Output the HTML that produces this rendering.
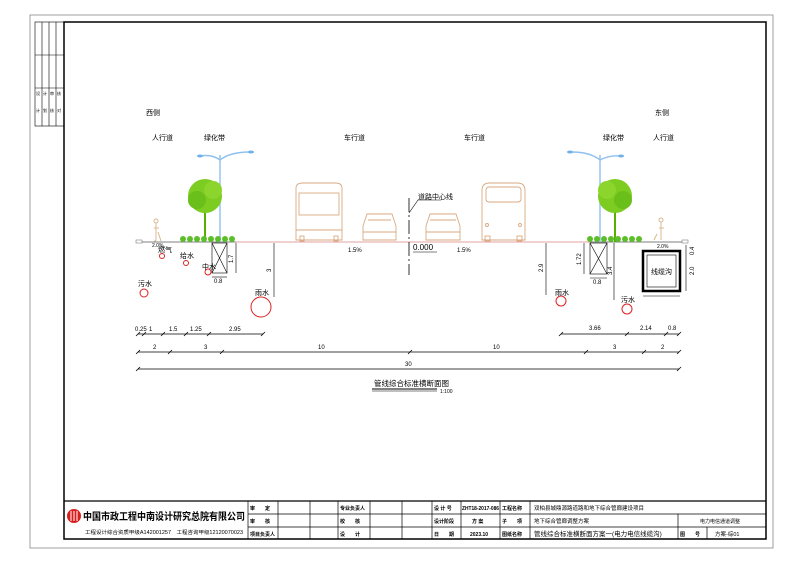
<!DOCTYPE html>
<html><head><meta charset="utf-8"><style>
html,body{margin:0;padding:0;background:#fff;}
svg{display:block;font-family:"Liberation Sans","Noto Sans CJK SC",sans-serif;}
</style></head><body>
<svg width="794" height="562" viewBox="0 0 794 562" xmlns="http://www.w3.org/2000/svg">
<!-- outer lines -->
<rect x="30" y="15" width="743" height="533" fill="none" stroke="#888" stroke-width="0.8"/>
<rect x="64" y="22" width="702" height="517" fill="none" stroke="#000" stroke-width="1.5"/>
<!-- left strip -->
<g stroke="#000" stroke-width="0.6" fill="none">
<rect x="35" y="22" width="29" height="104"/>
<line x1="42" y1="22" x2="42" y2="126"/><line x1="49" y1="22" x2="49" y2="126"/><line x1="56" y1="22" x2="56" y2="126"/>
<line x1="35" y1="55" x2="64" y2="55"/><line x1="35" y1="88" x2="64" y2="88"/>
</g>
<g font-size="4" fill="#000"><text x="36" y="95">设</text><text x="43" y="95">计</text><text x="50" y="95">审</text><text x="57" y="95">核</text>
<text x="36" y="112">计</text><text x="43" y="112">划</text><text x="50" y="112">核</text><text x="57" y="112">对</text></g>

<!-- top labels -->
<g font-size="7" fill="#000">
<text x="146" y="115">西侧</text><text x="152" y="140">人行道</text><text x="204" y="140">绿化带</text>
<text x="344" y="140">车行道</text><text x="464" y="140">车行道</text><text x="603" y="140">绿化带</text>
<text x="655" y="115">东侧</text><text x="653" y="140">人行道</text>
</g>

<!-- ground lines -->
<line x1="138" y1="242" x2="236" y2="242" stroke="#555" stroke-width="0.8"/>
<line x1="236" y1="242" x2="590" y2="242" stroke="#e3a0a0" stroke-width="0.9"/>
<line x1="590" y1="242" x2="688" y2="242" stroke="#555" stroke-width="0.8"/>
<rect x="136" y="240" width="6" height="3" fill="#fff" stroke="#666" stroke-width="0.5"/>
<rect x="682" y="240" width="6" height="3" fill="#fff" stroke="#666" stroke-width="0.5"/>

<!-- street lights -->
<g stroke="#8fc0ee" stroke-width="1.4" fill="none">
<line x1="220" y1="155" x2="220" y2="242"/><path d="M220 160 Q212 154 200 156"/><path d="M220 160 Q230 152 250 152"/>
<line x1="600" y1="155" x2="600" y2="242"/><path d="M600 160 Q590 152 572 152"/><path d="M600 160 Q610 155 620 156"/>
</g>
<g fill="#6fb0ea"><ellipse cx="200" cy="156" rx="3" ry="1.5"/><ellipse cx="251" cy="152" rx="3" ry="1.5"/><ellipse cx="570" cy="152" rx="3" ry="1.5"/><ellipse cx="621" cy="156" rx="3" ry="1.5"/></g>

<!-- trees -->
<g>
<rect x="204" y="200" width="2" height="42" fill="#55b000"/>
<circle cx="205" cy="196" r="17" fill="#7ccc22"/><circle cx="197" cy="200" r="9" fill="#6bbf1a"/><circle cx="213" cy="190" r="9" fill="#8bd52c"/>
<rect x="614" y="200" width="2" height="42" fill="#55b000"/>
<circle cx="615" cy="196" r="17" fill="#7ccc22"/><circle cx="607" cy="190" r="9" fill="#8bd52c"/><circle cx="623" cy="200" r="9" fill="#6bbf1a"/>
</g>
<!-- shrubs -->
<g fill="#5cbf2a">
<circle cx="183" cy="239" r="3"/><circle cx="190" cy="239" r="3"/><circle cx="197" cy="239" r="3"/><circle cx="204" cy="239" r="3"/><circle cx="211" cy="239" r="3"/><circle cx="218" cy="239" r="3"/><circle cx="225" cy="239" r="3"/><circle cx="232" cy="239" r="3"/>
<circle cx="590" cy="239" r="3"/><circle cx="597" cy="239" r="3"/><circle cx="604" cy="239" r="3"/><circle cx="611" cy="239" r="3"/><circle cx="618" cy="239" r="3"/><circle cx="625" cy="239" r="3"/><circle cx="632" cy="239" r="3"/><circle cx="639" cy="239" r="3"/>
</g>
<!-- pedestrians -->
<g stroke="#d8b890" stroke-width="1" fill="none">
<path d="M156 223 v18 M154 228 h5 M156 241 l-2 0 M158 232 l3 9"/><circle cx="156" cy="221" r="2"/>
<path d="M661 222 v18 M659 228 h5 M657 234 l-3 6"/><circle cx="661" cy="220" r="2"/>
</g>

<!-- vehicles -->
<g stroke="#d9a980" stroke-width="0.9" fill="none">
<path d="M296 240 V188 Q296 183 303 183 H335 Q342 183 342 188 V240 Z"/><rect x="299" y="193" width="40" height="22"/><line x1="296" y1="230" x2="342" y2="230"/>
<rect x="300" y="236" width="4" height="5"/><rect x="334" y="236" width="4" height="5"/>
<path d="M363 240 V226 L367 214 H392 L396 226 V240 Z"/><line x1="368" y1="220" x2="391" y2="220"/><line x1="363" y1="232" x2="396" y2="232"/>
<path d="M426 240 V226 L430 214 H456 L460 226 V240 Z"/><line x1="430" y1="220" x2="456" y2="220"/><line x1="426" y1="232" x2="460" y2="232"/>
<path d="M482 240 V190 Q482 183 490 183 H517 Q525 183 525 190 V240 Z"/><rect x="486" y="187" width="35" height="15" rx="3"/><circle cx="487" cy="225" r="1.5"/><circle cx="520" cy="225" r="1.5"/>
<rect x="485" y="236" width="5" height="5"/><rect x="517" y="236" width="5" height="5"/>
</g>

<!-- centerline -->
<line x1="409" y1="198" x2="409" y2="275" stroke="#000" stroke-width="0.8" stroke-dasharray="14 3 2 3"/>
<path d="M409 213 L418 200 H441" stroke="#000" stroke-width="0.6" fill="none"/>
<text x="418" y="199" font-size="7" fill="#000">道路中心线</text>
<text x="413" y="250" font-size="8" fill="#000">0.000</text><line x1="413" y1="252" x2="437" y2="252" stroke="#000" stroke-width="0.6"/>
<text x="348" y="252" font-size="6" fill="#000">1.5%</text><text x="457" y="252" font-size="6" fill="#000">1.5%</text>
<text x="152" y="247" font-size="5" fill="#000">2.0%</text><text x="657" y="248" font-size="5" fill="#000">2.0%</text>

<!-- hatched boxes -->
<g stroke="#000" stroke-width="0.6" fill="none">
<rect x="212" y="243" width="15" height="30"/><path d="M212 243 L227 273 M227 243 L212 273"/>
<rect x="590" y="243" width="17" height="31"/><path d="M590 243 L607 274 M607 243 L590 274"/>
<line x1="236" y1="243" x2="236" y2="273"/><line x1="274" y1="243" x2="274" y2="297"/>
<line x1="546" y1="243" x2="546" y2="295"/><line x1="584" y1="243" x2="584" y2="274"/><line x1="614" y1="243" x2="614" y2="300"/>
<line x1="212" y1="277" x2="227" y2="277"/><line x1="590" y1="278" x2="607" y2="278"/>
<line x1="686" y1="245" x2="686" y2="291"/>
</g>
<g font-size="6" fill="#000">
<text x="233" y="263" transform="rotate(-90 233 263)">1.7</text>
<text x="271" y="272" transform="rotate(-90 271 272)">3</text>
<text x="543" y="272" transform="rotate(-90 543 272)">2.9</text>
<text x="581" y="265" transform="rotate(-90 581 265)">1.72</text>
<text x="612" y="275" transform="rotate(-90 612 275)">3.4</text>
<text x="694" y="255" transform="rotate(-90 694 255)">0.4</text>
<text x="694" y="275" transform="rotate(-90 694 275)">2.0</text>
<text x="214" y="283">0.8</text><text x="593" y="284">0.8</text>
</g>

<!-- cable trench -->
<rect x="643" y="251" width="37" height="40" fill="none" stroke="#000" stroke-width="2.5"/>
<rect x="647" y="255" width="29" height="32" fill="none" stroke="#000" stroke-width="0.6"/>
<text x="651" y="274" font-size="7" fill="#000">线缆沟</text>
<line x1="643" y1="296" x2="680" y2="296" stroke="#000" stroke-width="0.5"/>

<!-- pipes -->
<g fill="none" stroke="#d22" stroke-width="1">
<circle cx="144" cy="293" r="4"/><circle cx="162" cy="256" r="2.5"/><circle cx="186" cy="263" r="2.5"/><circle cx="208" cy="272" r="3"/>
<circle cx="261" cy="307" r="10"/><circle cx="561" cy="301" r="5"/><circle cx="627" cy="309" r="5"/>
</g>
<g font-size="7" fill="#000">
<text x="138" y="286">污水</text><text x="158" y="252">燃气</text><text x="180" y="258">给水</text><text x="202" y="269">中水</text>
<text x="255" y="295">雨水</text><text x="555" y="295">雨水</text><text x="621" y="302">污水</text>
</g>

<!-- dimensions -->
<g stroke="#000" stroke-width="0.7">
<line x1="138" y1="334" x2="263" y2="334"/><line x1="561" y1="334" x2="679" y2="334"/>
<line x1="138" y1="352" x2="679" y2="352"/><line x1="138" y1="369" x2="679" y2="369"/>
</g>
<g stroke="#000" stroke-width="0.8">
<path d="M136 336 l4 -4 M142 336 l4 -4 M161 336 l4 -4 M184 336 l4 -4 M207 336 l4 -4 M261 336 l4 -4 M559 336 l4 -4 M625 336 l4 -4 M664 336 l4 -4 M677 336 l4 -4"/>
<path d="M136 354 l4 -4 M168 354 l4 -4 M220 354 l4 -4 M408 354 l4 -4 M584 354 l4 -4 M642 354 l4 -4 M677 354 l4 -4"/>
<path d="M136 371 l4 -4 M677 371 l4 -4"/>
</g>
<g font-size="6" fill="#000">
<text x="135" y="331">0.25</text><text x="149" y="331">1</text><text x="169" y="331">1.5</text><text x="190" y="331">1.25</text><text x="229" y="331">2.95</text>
<text x="589" y="330">3.66</text><text x="640" y="330">2.14</text><text x="668" y="330">0.8</text>
<text x="153" y="349">2</text><text x="204" y="349">3</text><text x="318" y="349">10</text><text x="493" y="349">10</text><text x="613" y="349">3</text><text x="661" y="349">2</text>
<text x="405" y="366">30</text>
</g>
<text x="374" y="386" font-size="7.5" fill="#000">管线综合标准横断面图</text>
<line x1="372" y1="389" x2="437" y2="389" stroke="#000" stroke-width="1"/>
<line x1="372" y1="391" x2="437" y2="391" stroke="#000" stroke-width="0.5"/>
<text x="440" y="393" font-size="5" fill="#000">1:100</text>

<!-- title block -->
<g stroke="#000" stroke-width="0.7" fill="none">
<line x1="64" y1="501" x2="766" y2="501" stroke-width="1.2"/>
<line x1="248" y1="514" x2="766" y2="514"/><line x1="248" y1="527" x2="766" y2="527"/>
<line x1="248" y1="501" x2="248" y2="539"/><line x1="278" y1="501" x2="278" y2="539"/><line x1="310" y1="501" x2="310" y2="539"/>
<line x1="338" y1="501" x2="338" y2="539"/><line x1="370" y1="501" x2="370" y2="539"/><line x1="402" y1="501" x2="402" y2="539"/>
<line x1="432" y1="501" x2="432" y2="539"/><line x1="461" y1="501" x2="461" y2="539"/><line x1="500" y1="501" x2="500" y2="539"/>
<line x1="530" y1="501" x2="530" y2="539"/><line x1="678" y1="514" x2="678" y2="539"/><line x1="707" y1="527" x2="707" y2="539"/>
</g>
<circle cx="74" cy="516" r="7" fill="#d71f1f"/>
<g stroke="#fff" stroke-width="1"><line x1="71" y1="511" x2="71" y2="521"/><line x1="74" y1="511" x2="74" y2="521"/><line x1="77" y1="511" x2="77" y2="521"/></g>
<text x="83" y="520" font-size="10" font-weight="bold" fill="#000" textLength="162" lengthAdjust="spacingAndGlyphs">中国市政工程中南设计研究总院有限公司</text>
<text x="85" y="534" font-size="5" fill="#000" textLength="158" lengthAdjust="spacingAndGlyphs">工程设计综合资质甲级A142001257　工程咨询甲级12120070023</text>
<g font-size="5" font-weight="bold" fill="#000">
<text x="250" y="510">审　　定</text><text x="250" y="523">审　　核</text><text x="250" y="536">项目负责人</text>
<text x="340" y="510">专业负责人</text><text x="340" y="523">校　　核</text><text x="340" y="536">设　　计</text>
<text x="434" y="510">设 计 号</text><text x="434" y="523">设计阶段</text><text x="434" y="536">日　　期</text>
<text x="462" y="510" textLength="37" lengthAdjust="spacingAndGlyphs">ZHT18-2017-086</text><text x="472" y="523">方 案</text><text x="470" y="536">2023.10</text>
<text x="502" y="510">工程名称</text><text x="502" y="523">子　　项</text><text x="502" y="536">图纸名称</text>
<text x="680" y="536">图　　号</text>
</g>
<g font-size="5.5" fill="#000">
<text x="534" y="510">双柏县城鼎源路道路和地下综合管廊建设项目</text>
<text x="534" y="523">地下综合管廊调整方案</text>
<text x="700" y="523" font-size="5">电力电信通道调整</text>
<text x="534" y="536" font-size="6.5">管线综合标准横断面方案一(电力电信线缆沟)</text>
<text x="715" y="536">方案-综01</text>
</g>
</svg>
</body></html>
